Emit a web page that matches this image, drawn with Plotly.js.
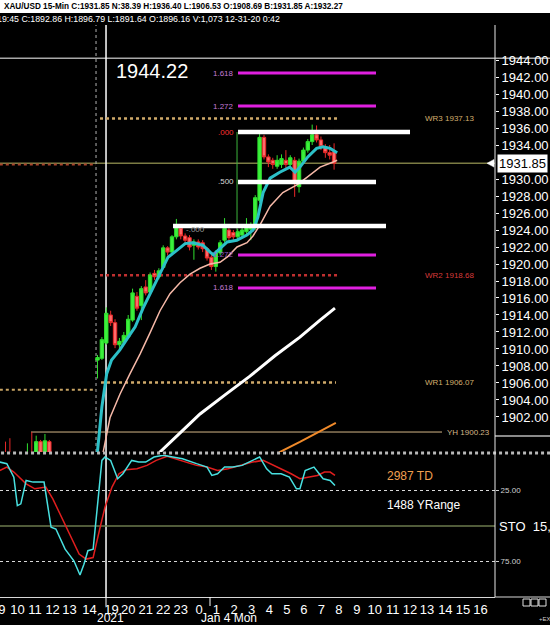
<!DOCTYPE html>
<html><head><meta charset="utf-8">
<script src="https://cdn.plot.ly/plotly-3.0.1.min.js"></script>
<style>html,body{margin:0;padding:0;background:#000;overflow:hidden}#chart{width:550px;height:625px}</style>
</head><body><div id="chart"></div>
<script>
// 15-min bars. Bar index 0 = Jan 3 18:00; negative = Dec 31 bars
const firstBar = -22;
const openP  = [1896.8,1896.3,1896.0,1895.5,1895.0,1895.6,1896.6,1897.7,1897.0,1899.1,1897.5,1899.1,1897.0,1895.4,1894.6,1893.6,1892.9,1892.3,1891.7,1892.5,1893.4,1893.9,
  1908.69,1908.9,1910.7,1914.0,1913.1,1910.5,1910.8,1911.4,1913.4,1916.2,1915.1,1917.3,1916.7,1918.9,1918.5,1919.6,1921.9,1921.4,1923.2,1924.2,1923.3,1923.1,1922.2,1922.6,1922.5,1921.8,1920.8,1919.7,1921.3,1922.8,1924.0,1923.7,1923.2,1923.4,1923.8,1924.1,1924.4,1927.5,1934.9,1932.6,1932.2,1931.5,1931.7,1932.2,1931.7,1932.2,1929.1,1932.1,1933.4,1934.4,1935.2,1934.6,1933.8,1933.1,1933.2];
const highP  = [1897.5,1899.1,1899.5,1896.4,1896.0,1897.2,1898.9,1900.23,1899.8,1899.3,1900.0,1899.3,1897.6,1896.2,1895.3,1894.4,1893.8,1893.1,1892.9,1893.9,1894.6,1896.8,
  1909.3,1911.4,1914.9,1914.5,1913.5,1911.3,1912.0,1914.0,1917.1,1916.7,1917.4,1918.1,1919.0,1919.3,1919.5,1922.2,1922.1,1923.4,1925.3,1924.6,1923.6,1923.4,1922.9,1922.9,1922.8,1922.0,1921.1,1921.6,1922.8,1925.4,1924.3,1924.0,1924.1,1924.4,1925.4,1924.9,1928.1,1935.3,1935.2,1932.9,1932.5,1932.8,1932.9,1933.4,1932.8,1932.6,1932.4,1933.7,1934.7,1936.4,1936.3,1935.0,1934.1,1934.0,1934.2];
const lowP   = [1896.0,1895.8,1895.2,1894.6,1894.2,1895.3,1896.2,1896.4,1896.6,1897.0,1897.2,1896.8,1895.0,1894.1,1893.2,1892.4,1891.8,1891.2,1891.0,1892.0,1892.9,1893.5,
  1906.53,1908.7,1910.5,1912.7,1910.1,1910.0,1910.5,1911.2,1913.2,1914.5,1913.4,1916.3,1916.4,1918.1,1918.2,1919.4,1921.0,1921.2,1922.9,1922.9,1922.4,1921.6,1920.5,1921.7,1921.4,1920.4,1919.3,1919.1,1921.0,1922.5,1922.7,1922.8,1922.9,1923.1,1923.5,1922.8,1924.0,1927.2,1932.3,1931.4,1931.2,1931.2,1931.3,1931.2,1931.3,1927.9,1928.4,1931.8,1933.1,1934.0,1934.3,1933.4,1932.5,1932.3,1931.1];
const closeP = [1896.3,1895.9,1895.5,1895.0,1895.6,1896.8,1897.6,1896.9,1899.1,1897.3,1899.2,1897.0,1895.4,1894.6,1893.6,1892.9,1892.3,1891.7,1892.5,1893.4,1893.9,1896.2,
  1909.0,1911.1,1914.2,1913.1,1910.5,1910.9,1911.6,1913.5,1916.6,1914.8,1917.1,1916.6,1918.7,1918.5,1919.2,1921.9,1921.4,1923.2,1924.4,1923.3,1922.8,1922.0,1922.6,1922.0,1921.8,1920.7,1919.7,1921.3,1922.5,1924.2,1923.1,1923.2,1923.8,1924.0,1924.5,1924.5,1927.8,1934.9,1932.6,1932.0,1931.7,1932.2,1932.4,1931.7,1932.5,1929.5,1932.1,1933.4,1934.4,1935.2,1934.6,1933.8,1933.1,1932.8,1931.85];
const barIdx = openP.map((_, i) => firstBar + i);

// moving averages (bar index, price)
const maFastX = [-1,0,1,1.7,2.1,3.2,5.1,7,8.6,10.4,12.4,14.3,16.1,18.1,20,21.8,24.1,25.7,26.4,27.5,29.6,31.8,34.1,35.5,36.6,37.8,39.4,41.6,43.9,45.1,46.2,48,50,51.5,53.1,54.7];
const maFastY = [1894.5,1898.0,1903.2,1906.0,1907.1,1908.7,1909.9,1911.4,1912.6,1914.8,1916.9,1918.9,1920.8,1921.6,1922.4,1922.5,1922.2,1921.4,1921.1,1921.6,1922.6,1922.8,1923.4,1924.0,1925.5,1928.4,1930.1,1930.8,1931.4,1930.8,1931.4,1932.6,1933.6,1933.8,1933.6,1933.1];
const maMidX = [0.5,1.3,2.85,5.14,7.42,9.7,11.98,14.27,16.55,18.83,21.11,23.4,25.68,27.96,29.79,31.84,34.12,35.49,37.1,39.4,42.3,45.5,47.8,50.8,53.8,54.7];
const maMidY = [1895.0,1897.9,1901.9,1904.7,1907.1,1909.4,1911.9,1914.5,1916.5,1917.8,1918.8,1919.5,1920.0,1920.2,1920.9,1922.0,1922.5,1923.3,1924.6,1926.8,1928.4,1929.3,1930.2,1931.4,1932.0,1932.2];
const maSlowX = [12,14.3,18.8,23.4,29.1,34.8,40.5,46.2,50.8,54.2];
const maSlowY = [1895.5,1897.9,1900.1,1902.35,1904.6,1906.8,1909.2,1911.4,1913.4,1914.8];
const maLongX = [38,41.7,46.2,50.3,54.4];
const maLongY = [1896.3,1897.9,1899.06,1900.2,1901.3];

// stochastic panel (axis drawn 0 at top, 100 at bottom)
const stoKX = [-22.3,-20.7,-19.1,-18.3,-17.5,-16.3,-14.7,-12.2,-10.6,-9.5,-7.4,-5.4,-4.0,-3.1,-2.2,-1.0,0.1,1.0,1.7,3.0,4.6,5.8,7.8,9.4,11.0,12.9,15.0,17.0,19.4,22.6,25.0,26.1,27.4,29.0,30.9,33.0,34.6,37.0,38.6,39.8,41.9,43.8,45.4,46.2,47.4,49.4,50.6,51.5,53.1,54.2];
const stoKY = [5.0,6.1,15.6,35.6,34.4,17.9,19.1,19.1,50.9,52.1,66.3,74.5,84.5,76.9,67.4,66.3,32.1,3.8,1.4,3.8,16.7,13.2,3.8,5.0,5.0,1.4,0.2,1.4,2.6,6.1,8.5,14.4,13.2,8.5,8.5,7.3,5.0,1.4,9.7,13.2,13.2,15.6,23.8,23.8,10.9,8.5,13.2,16.7,17.9,21.5];
const stoDX = [-22.3,-20.7,-19.1,-16.3,-14.3,-11.8,-10.2,-8.2,-6.2,-4.2,-2.6,-1.0,0.6,1.7,3.3,4.9,6.5,9.0,11.3,13.4,15.9,17.7,20.2,22.6,25.0,27.4,29.8,33.0,35.4,37.8,39.4,41.9,44.2,46.2,48.3,50.2,51.8,53.1,54.2];
const stoDY = [10.9,8.5,12.0,20.3,23.8,22.6,30.9,43.9,58.0,69.8,73.3,72.2,50.9,36.8,22.6,13.2,10.4,9.7,7.3,3.8,0.9,2.6,5.0,7.3,8.5,10.9,9.7,7.3,5.0,3.8,6.1,9.7,13.2,16.7,15.6,14.4,12.0,12.0,14.4];

// price levels
const wr3 = 1937.13, wr2 = 1918.68, wr1 = 1906.07, yHigh = 1900.23, lastPrice = 1931.85, topLevel = 1944.22;
const fibMagenta = [1942.47, 1938.59, 1921.06, 1917.18];
const fibMagentaLabels = ['1.618', '1.272', '1.272', '1.618'];
const fibWhite = [1935.53, 1929.65, 1924.47];

// axis ticks
const priceTicks = [1944,1942,1940,1938,1936,1934,1930,1928,1926,1924,1922,1920,1918,1916,1914,1912,1910,1908,1906,1904,1902];
const timeTickPos = [-21.85,-18.26,-14.26,-10.25,-6.39,-1.85,3.2,7.0,11.0,15.0,19.0,23.2,27.1,31.2,35.2,39.2,43.2,47.1,51.1,55.1,59.2,63.3,67.4,71.3,75.2,79.4,83.4,87.4];
const timeTickText = ['9','10','11','12','13','14','19','20','21','22','23','0','1','2','3','4','5','6','7','8','9','10','11','12','13','14','15','16'];

const FONT = 'Liberation Sans, Arial, sans-serif';
const traces = [
  {type:'candlestick', x:barIdx, open:openP, high:highP, low:lowP, close:closeP, xaxis:'x', yaxis:'y',
   increasing:{line:{color:'#2fe02f', width:1}, fillcolor:'#3cf03c'},
   decreasing:{line:{color:'#e82828', width:1}, fillcolor:'#ff6a6a'},
   whiskerwidth:0, hoverinfo:'skip'},
  {type:'scatter', mode:'lines', x:maSlowX, y:maSlowY, line:{color:'#ffffff', width:3}, xaxis:'x', yaxis:'y', hoverinfo:'skip'},
  {type:'scatter', mode:'lines', x:maLongX, y:maLongY, line:{color:'#f08a2a', width:2}, xaxis:'x', yaxis:'y', hoverinfo:'skip'},
  {type:'scatter', mode:'lines', x:maMidX, y:maMidY, line:{color:'#f6b9a8', width:1.5}, xaxis:'x', yaxis:'y', hoverinfo:'skip'},
  {type:'scatter', mode:'lines', x:maFastX, y:maFastY, line:{color:'#2cc0c8', width:3}, xaxis:'x', yaxis:'y', hoverinfo:'skip'},
  {type:'scatter', mode:'lines', x:stoDX, y:stoDY, line:{color:'#e01e1e', width:1.5}, xaxis:'x', yaxis:'y2', hoverinfo:'skip'},
  {type:'scatter', mode:'lines', x:stoKX, y:stoKY, line:{color:'#48e0e0', width:1.5}, xaxis:'x', yaxis:'y2', hoverinfo:'skip'}
];

function hl(x0, x1, y, color, width, dash, layer, xref, yref) {
  return {type:'line', xref:xref||'x', yref:yref||'y', x0:x0, x1:x1, y0:y, y1:y,
          line:{color:color, width:width, dash:dash||'solid'}, layer:layer||'above'};
}
const px2k = px => (px - 97.5) / 4.381;
const pxX = px => px / 495;
const pxY = py => (597 - py) / 572;

const shapes = [
  {type:'rect', xref:'paper', yref:'paper', x0:-0.01, x1:1.12, y0:pxY(13), y1:pxY(-2), fillcolor:'#ffffff', line:{width:0}},
  hl(-0.01, 1.12, topLevel, '#a8a8a8', 1.5, 'solid', 'below', 'paper', 'y'),
  hl(0, 1, lastPrice, '#7c7c44', 1.5, 'solid', 'below', 'paper', 'y'),
  hl(-22.3, px2k(96), 1931.7, '#a8442c', 2, 'dot', 'below'),
  hl(-22.3, px2k(96), 1905.2, '#c8a464', 2, 'dot', 'below'),
  hl(px2k(100), px2k(337), wr3, '#d0aa6a', 2.5, 'dot', 'below'),
  hl(px2k(100), px2k(337), wr2, '#c03030', 2.5, 'dot', 'below'),
  hl(px2k(101), px2k(336), wr1, '#d0aa6a', 2.5, 'dot', 'below'),
  hl(px2k(31), px2k(442), yHigh, '#d4b688', 1, 'solid', 'below'),
  {type:'line', xref:'x', yref:'paper', x0:px2k(96), x1:px2k(96), y0:pxY(452), y1:1, line:{color:'#b0b0b0', width:1, dash:'dot'}, layer:'below'},
  {type:'line', xref:'x', yref:'paper', x0:px2k(106), x1:px2k(106), y0:0, y1:1, line:{color:'#ffffff', width:1.5}, layer:'below'},
  {type:'line', xref:'x', yref:'y', x0:px2k(237), x1:px2k(237), y0:fibWhite[0], y1:1923.9, line:{color:'#3cb43c', width:1}, layer:'below'},
  hl(px2k(238), px2k(376), fibMagenta[0], '#e020e0', 3),
  hl(px2k(238), px2k(376), fibMagenta[1], '#e020e0', 3),
  hl(px2k(238), px2k(376), fibMagenta[2], '#e020e0', 3),
  hl(px2k(238), px2k(376), fibMagenta[3], '#e020e0', 3),
  hl(px2k(238), px2k(410), fibWhite[0], '#ffffff', 4.5),
  hl(px2k(238), px2k(376), fibWhite[1], '#ffffff', 4.5),
  hl(px2k(173), px2k(386), fibWhite[2], '#ffffff', 4.5),
  // panel separators / axis lines
  {type:'line', xref:'paper', yref:'paper', x0:-0.01, x1:1.12, y0:pxY(453), y1:pxY(453), line:{color:'#b8b8b8', width:3, dash:'dot'}},
  {type:'line', xref:'paper', yref:'paper', x0:1, x1:1.12, y0:pxY(436), y1:pxY(436), line:{color:'#8a8a8a', width:2}},
  {type:'line', xref:'paper', yref:'paper', x0:1, x1:1, y0:0, y1:1, line:{color:'#e8e8e8', width:1}},
  hl(0, 1, 25, '#d8d8d8', 1, 'dot', 'below', 'paper', 'y2'),
  hl(0, 1, 75, '#d8d8d8', 1, 'dot', 'below', 'paper', 'y2'),
  hl(0, 1, 50, '#6b7a4c', 1.5, 'solid', 'below', 'paper', 'y2'),
  {type:'line', xref:'paper', yref:'paper', x0:pxX(106), x1:pxX(106), y0:0, y1:pxY(606), line:{color:'#ffffff', width:1}},
  {type:'line', xref:'paper', yref:'paper', x0:pxX(210), x1:pxX(210), y0:0, y1:pxY(606), line:{color:'#ffffff', width:1}},
  {type:'line', xref:'paper', yref:'paper', x0:1, x1:1.12, y0:0, y1:0, line:{color:'#d8d8d8', width:1}},
  {type:'rect', xref:'paper', yref:'paper', x0:pxX(523), x1:pxX(530), y0:pxY(606), y1:pxY(599), line:{color:'#e0e0e0', width:1}},
  {type:'rect', xref:'paper', yref:'paper', x0:pxX(531), x1:pxX(538), y0:pxY(606), y1:pxY(599), line:{color:'#e0e0e0', width:1}},
  {type:'rect', xref:'paper', yref:'paper', x0:pxX(539), x1:pxX(546), y0:pxY(606), y1:pxY(599), line:{color:'#e0e0e0', width:1}},
  {type:'path', xref:'paper', yref:'y', path:`M ${pxX(487)} ${lastPrice} L ${pxX(494)} ${lastPrice+0.45} L ${pxX(494)} ${lastPrice-0.45} Z`, fillcolor:'#ffffff', line:{color:'#ffffff', width:0.5}}
];

function ann(text, x, y, opts) {
  return Object.assign({text:text, x:x, y:y, xref:'x', yref:'y', showarrow:false, xanchor:'left', yanchor:'middle',
    font:{family:FONT, size:8, color:'#ffffff'}}, opts||{});
}
const annotations = [
  ann('<b>XAU/USD 15-Min C:1931.85 N:38.39 H:1936.40 L:1906.53 O:1908.69 B:1931.85 A:1932.27</b>', pxX(2), pxY(6.5), {xref:'paper', yref:'paper', font:{family:FONT, size:8.2, color:'#000'}}),
  ann('19:45 C:1892.86 H:1896.79 L:1891.64 O:1896.16 V:1,073 12-31-20 0:42', pxX(-5), pxY(19), {xref:'paper', yref:'paper', font:{family:FONT, size:8.8, color:'#fff'}}),
  ann(topLevel.toFixed(2), px2k(114), 1942.71, {font:{family:FONT, size:20, color:'#fff'}}),
  ann(fibMagentaLabels[0], px2k(236), fibMagenta[0], {xanchor:'right', font:{family:FONT, size:8, color:'#c47ad8'}}),
  ann(fibMagentaLabels[1], px2k(236), fibMagenta[1], {xanchor:'right', font:{family:FONT, size:8, color:'#c47ad8'}}),
  ann(fibMagentaLabels[2], px2k(236), fibMagenta[2], {xanchor:'right', font:{family:FONT, size:8, color:'#9a5cc8'}}),
  ann(fibMagentaLabels[3], px2k(236), fibMagenta[3], {xanchor:'right', font:{family:FONT, size:8, color:'#c47ad8'}}),
  ann('.000', px2k(236), fibWhite[0], {xanchor:'right', font:{family:FONT, size:8, color:'#ff3030'}}),
  ann('.500', px2k(236), fibWhite[1], {xanchor:'right', font:{family:FONT, size:8, color:'#d8d8d8'}}),
  ann('-.000', px2k(207), 1924.1, {xanchor:'right', font:{family:FONT, size:8, color:'#9a9a9a'}}),
  ann('WR3 ' + wr3.toFixed(2), px2k(423), wr3, {font:{family:FONT, size:8, color:'#d4ae6e'}}),
  ann('WR2 ' + wr2.toFixed(2), px2k(423), wr2, {font:{family:FONT, size:8, color:'#d83a3a'}}),
  ann('WR1 ' + wr1.toFixed(2), px2k(423), wr1, {font:{family:FONT, size:8, color:'#d4ae6e'}}),
  ann('YH ' + yHigh.toFixed(2), px2k(445), yHigh, {font:{family:FONT, size:8, color:'#d4b688'}}),
  ann(lastPrice.toFixed(2), pxX(497), lastPrice, {xref:'paper', bgcolor:'#ffffff', borderpad:1, font:{family:FONT, size:13, color:'#000'}}),
  ann('2987 TD', px2k(385), 14.8, {yref:'y2', font:{family:FONT, size:12, color:'#f0a050'}}),
  ann('1488 YRange', px2k(385), 35.2, {yref:'y2', font:{family:FONT, size:12, color:'#ffffff'}}),
  ann('STO  15,', pxX(497), 50, {xref:'paper', yref:'y2', font:{family:FONT, size:13, color:'#ffffff'}}),
  ann('2021', pxX(110.5), pxY(618), {xref:'paper', yref:'paper', xanchor:'center', font:{family:FONT, size:12, color:'#fff'}}),
  ann('Jan 4 Mon', pxX(229), pxY(618), {xref:'paper', yref:'paper', xanchor:'center', font:{family:FONT, size:12, color:'#fff'}}),
  ann('+EX', pxX(537), pxY(619), {xref:'paper', yref:'paper', font:{family:FONT, size:6, color:'#d0d0d0'}})
];

const layout = {
  width:550, height:625, margin:{l:0, r:55, t:25, b:28},
  paper_bgcolor:'#000000', plot_bgcolor:'#000000', showlegend:false,
  font:{family:FONT, color:'#ffffff'},
  boxgap:0.12, boxgroupgap:0.12,
  xaxis:{range:[-22.26, 90.73], anchor:'y2', showgrid:false, zeroline:false, showline:true, linecolor:'#d8d8d8', linewidth:1,
         tickmode:'array', tickvals:timeTickPos, ticktext:timeTickText, ticks:'', tickfont:{family:FONT, size:13, color:'#ffffff'},
         ticklabeloverflow:'allow', rangeslider:{visible:false}, fixedrange:true},
  yaxis:{domain:[pxY(452), 1], range:[1897.88, 1948.12], side:'right', anchor:'x', showgrid:false, zeroline:false, showline:false,
         tickmode:'array', tickvals:priceTicks, ticktext:priceTicks.map(v => v.toFixed(2)), ticks:'outside', ticklen:3, tickcolor:'#ffffff',
         tickfont:{family:FONT, size:13, color:'#ffffff'}, fixedrange:true},
  yaxis2:{domain:[0, pxY(455)], range:[100, 0], side:'right', anchor:'x', showgrid:false, zeroline:false, showline:false,
          tickmode:'array', tickvals:[25, 75], ticktext:['25.00', '75.00'], ticks:'outside', ticklen:3, tickcolor:'#d0d0d0',
          tickfont:{family:FONT, size:8, color:'#d0d0d0'}, fixedrange:true},
  shapes:shapes, annotations:annotations
};
Plotly.newPlot('chart', traces, layout, {staticPlot:true, displayModeBar:false});
</script></body></html>
